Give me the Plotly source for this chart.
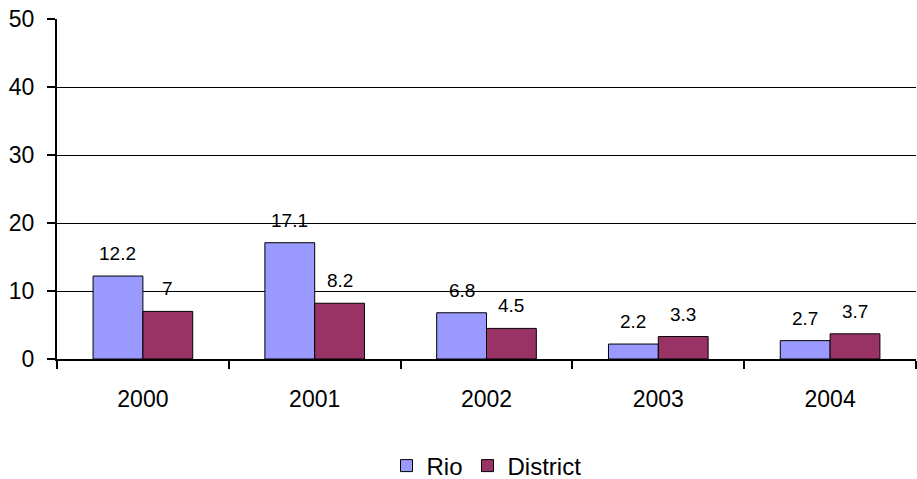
import plotly.graph_objects as go

years = ["2000", "2001", "2002", "2003", "2004"]
rio = [12.2, 17.1, 6.8, 2.2, 2.7]
district = [7, 8.2, 4.5, 3.3, 3.7]

FAM = "Liberation Sans, Arial, sans-serif"
tickfnt = dict(family=FAM, size=23, color="black")
lblfnt = dict(family=FAM, size=19, color="black")
BARGAP = 0.42
OFF = (1 - BARGAP) / 4

fig = go.Figure()
fig.add_trace(go.Bar(name="Rio", x=years, y=rio, marker=dict(color="#9999FF", line=dict(color="black", width=1))))
fig.add_trace(go.Bar(name="District", x=years, y=district, marker=dict(color="#993366", line=dict(color="black", width=1))))

anns = []
for i, y in enumerate(years):
    for off, v in ((-OFF, rio[i]), (OFF, district[i])):
        anns.append(dict(x=i + off, y=v, xref="x", yref="y", text=f"{v:g}", showarrow=False,
                         yanchor="bottom", yshift=10, font=lblfnt))

fig.update_layout(
    width=917, height=479,
    margin=dict(l=57, r=1, t=19, b=120, autoexpand=False),
    plot_bgcolor="white", paper_bgcolor="white",
    barmode="group", bargap=BARGAP, bargroupgap=0,
    font=tickfnt,
    showlegend=True,
    legend=dict(orientation="h", x=0.5, xanchor="center", yref="container", y=13 / 479, yanchor="middle",
                font=dict(family=FAM, size=24, color="black")),
    annotations=anns,
)
fig.update_xaxes(type="category", tickson="boundaries", ticks="outside", ticklen=8, tickcolor="black",
                 tickwidth=2, showline=True, linecolor="black", linewidth=2, showgrid=False,
                 tickfont=tickfnt, automargin=False, ticklabelstandoff=18)
fig.update_yaxes(range=[0, 50], dtick=10, ticks="outside", ticklen=8, tickcolor="black", tickwidth=2,
                 showline=True, linecolor="black", linewidth=2, showgrid=True, gridcolor="black",
                 gridwidth=1, zeroline=False, tickfont=tickfnt, automargin=False, ticklabelstandoff=8)
fig.write_html("out.html", config={"displayModeBar": False},
               post_script="document.body.style.margin='0px';")
